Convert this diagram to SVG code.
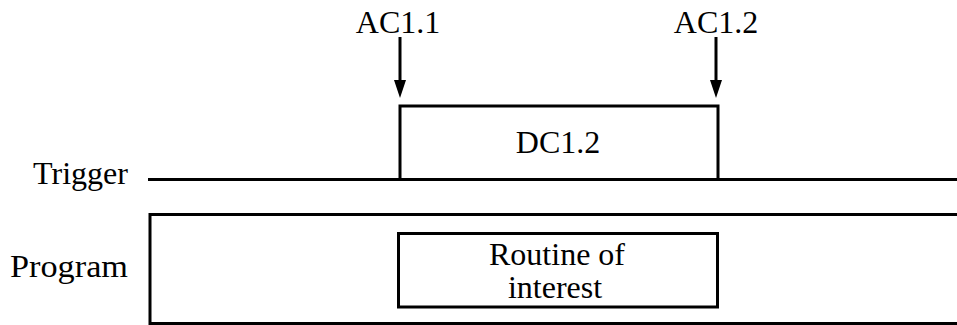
<svg xmlns="http://www.w3.org/2000/svg" width="957" height="325" viewBox="0 0 957 325">
<defs>
<style>
.t{font-family:"Liberation Serif","Times New Roman",serif;font-size:32px;fill:#000}
.ln{fill:none;stroke:#000;stroke-width:3}
.ah{fill:#000}
</style>
</defs>
<rect width="957" height="325" fill="#fff"/>
<g id="trigger">
<text class="t" x="33" y="184" textLength="95" lengthAdjust="spacingAndGlyphs">Trigger</text>
<path class="ln" d="M148,179.5 H957"/>
</g>
<g id="dc12">
<path class="ln" d="M400,179.5 V106 H718 V179.5"/>
<text class="t" x="558" y="153" text-anchor="middle">DC1.2</text>
</g>
<g id="ac11">
<text class="t" x="398" y="33" text-anchor="middle">AC1.1</text>
</g>
<g id="ac12">
<text class="t" x="716" y="33" text-anchor="middle">AC1.2</text>
</g>
<g id="program">
<text class="t" x="10" y="277" textLength="118" lengthAdjust="spacingAndGlyphs">Program</text>
<path class="ln" d="M957,214.5 H150 V323.5 H957"/>
</g>
<g id="routine">
<rect class="ln" x="398.5" y="233.5" width="319" height="73.5" stroke-width="2.5"/>
<text class="t" x="557" y="265" text-anchor="middle">Routine of</text>
<text class="t" x="555" y="298" text-anchor="middle">interest</text>
</g>
<g id="connectors">
<line x1="400" y1="37" x2="400" y2="82" stroke="#000" stroke-width="3"/>
<path d="M394,80 L406,80 L400,98 Z" class="ah"/>
<line x1="716" y1="37" x2="716" y2="82" stroke="#000" stroke-width="3"/>
<path d="M710,80 L722,80 L716,98 Z" class="ah"/>
</g>
</svg>
